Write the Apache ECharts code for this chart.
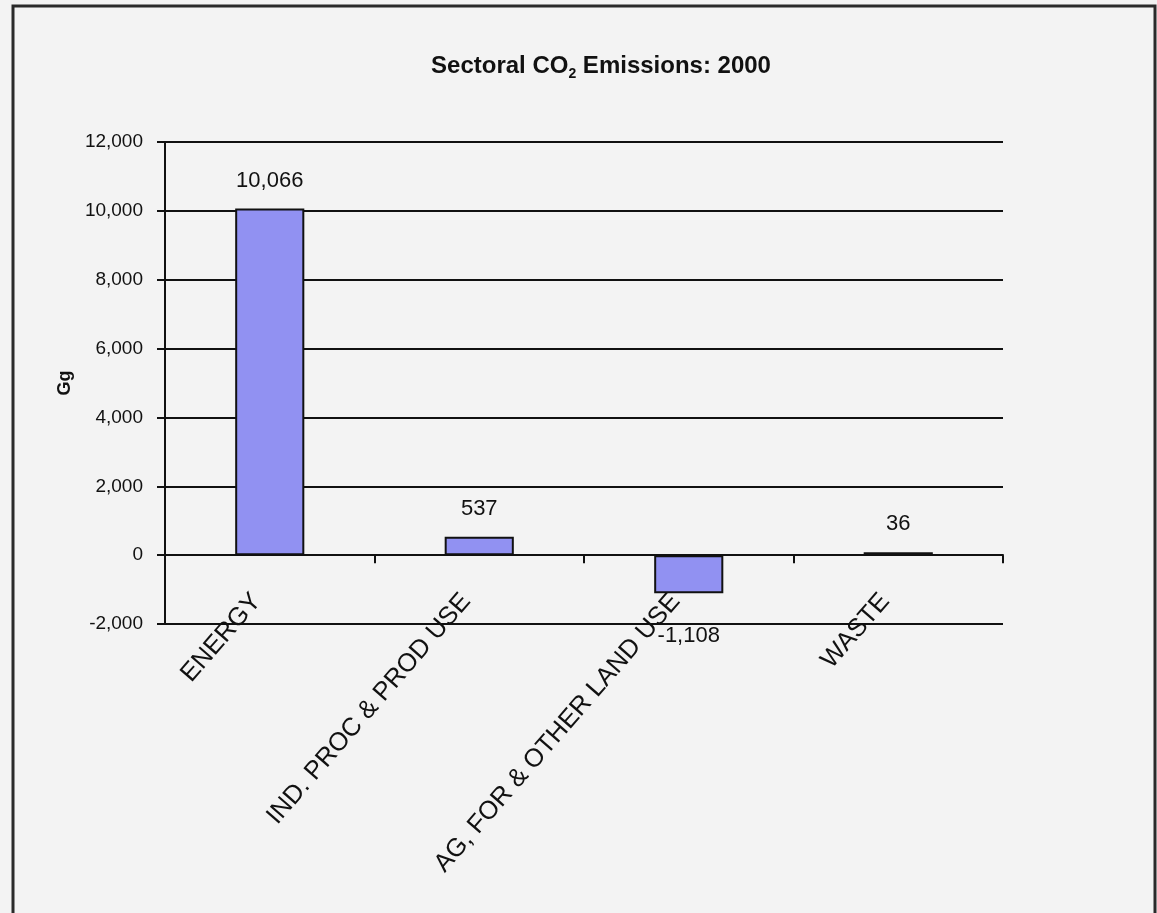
<!DOCTYPE html>
<html>
<head>
<meta charset="utf-8">
<title>Sectoral CO2 Emissions: 2000</title>
<script src="https://cdn.jsdelivr.net/npm/echarts@6/dist/echarts.min.js"></script>
<style>
  html, body { margin: 0; padding: 0; background: #f3f3f3; }
  #chart { width: 1157px; height: 913px; }
</style>
</head>
<body>
<div id="chart"></div>
<script>
// Sector totals, Gg CO2
const sectors = ['ENERGY', 'IND. PROC & PROD USE', 'AG, FOR & OTHER LAND USE', 'WASTE'];
const emissions = [10066, 537, -1108, 36];

// Value axis range
const yMin = -2000;
const yMax = 12000;
const yStep = 2000;

const FONT = '"Liberation Sans", Arial, sans-serif';
const fmt = v => Number(v).toLocaleString('en-US');

const chart = echarts.init(document.getElementById('chart'), null, { renderer: 'canvas' });

chart.setOption({
  backgroundColor: '#f3f3f3',
  animation: false,
  textStyle: { fontFamily: FONT, color: '#111' },
  title: {
    left: 596,
    top: 46,
    textAlign: 'center',
    text: '{a|Sectoral CO}{s|2}{a| Emissions: 2000}',
    textStyle: {
      rich: {
        a: { fontFamily: FONT, fontWeight: 'bold', fontSize: 24, color: '#111', lineHeight: 30 },
        s: { fontFamily: FONT, fontWeight: 'bold', fontSize: 14, color: '#111', lineHeight: 30, verticalAlign: 'bottom' }
      }
    }
  },
  graphic: [{
    type: 'rect',
    silent: true,
    shape: { x: 13, y: 6, width: 1142, height: 1000 },
    style: { fill: 'none', stroke: '#2a2a2a', lineWidth: 3 }
  }],
  grid: { left: 165, right: 154, top: 142, bottom: 289, containLabel: false },
  xAxis: {
    type: 'category',
    data: sectors,
    axisLine: { onZero: true, lineStyle: { color: '#111', width: 2 } },
    axisTick: { show: true, alignWithLabel: false, length: 8, inside: false, lineStyle: { color: '#111', width: 2 } },
    axisLabel: {
      interval: 0,
      rotate: 49,
      margin: -42,
      padding: [0, 20, 0, 0],
      fontFamily: FONT,
      fontSize: 25.5,
      color: '#111'
    },
    splitLine: { show: false }
  },
  yAxis: {
    type: 'value',
    min: yMin,
    max: yMax,
    interval: yStep,
    name: 'Gg',
    nameLocation: 'middle',
    nameGap: 91,
    nameRotate: 90,
    nameTextStyle: { fontFamily: FONT, fontWeight: 'bold', fontSize: 18, color: '#111' },
    axisLine: { show: true, lineStyle: { color: '#111', width: 2 } },
    axisTick: { show: true, length: 8, lineStyle: { color: '#111', width: 2 } },
    axisLabel: {
      margin: 22,
      fontFamily: FONT,
      fontSize: 19,
      color: '#111',
      formatter: v => fmt(v)
    },
    splitLine: { show: true, lineStyle: { color: '#111', width: 2 } }
  },
  series: [{
    type: 'bar',
    barWidth: '33%',
    barMinHeight: 3,
    data: emissions.map(v => ({
      value: v,
      label: v < 0
        ? { position: 'bottom', distance: 32 }
        : { position: 'top', distance: 17 }
    })),
    itemStyle: { color: '#9191f2', borderColor: '#111', borderWidth: 2 },
    label: {
      show: true,
      fontFamily: FONT,
      fontSize: 22,
      color: '#111',
      formatter: p => fmt(p.value)
    }
  }]
});
</script>
</body>
</html>
